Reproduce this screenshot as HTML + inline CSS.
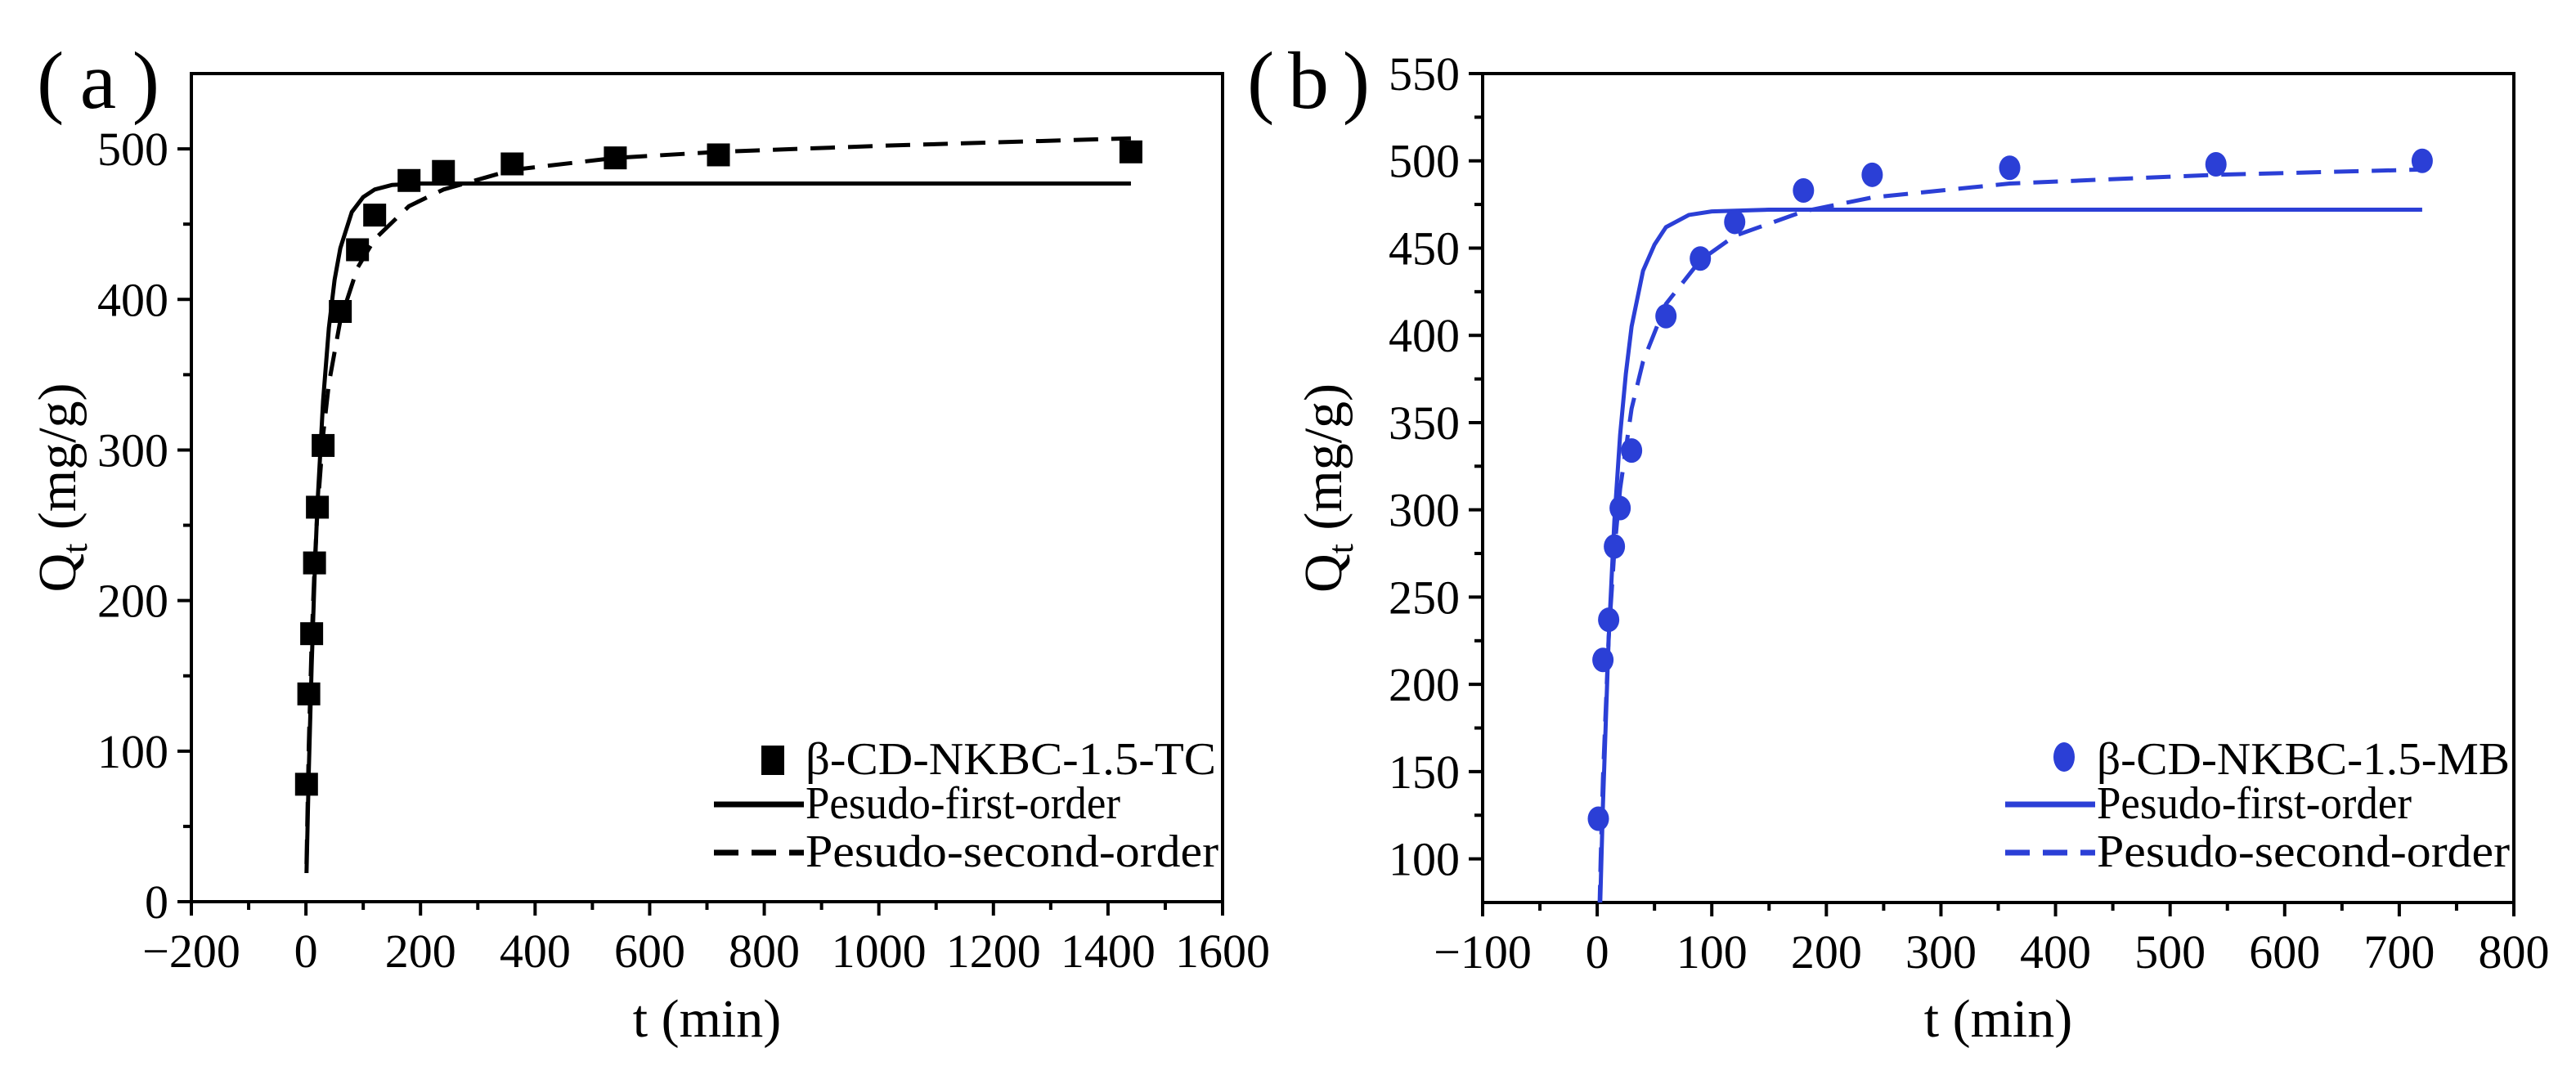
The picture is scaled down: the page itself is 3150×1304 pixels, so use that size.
<!DOCTYPE html>
<html><head><meta charset="utf-8"><style>
html,body{margin:0;padding:0;background:#fff;}
svg{display:block;font-family:"Liberation Serif",serif;}
</style></head><body>
<svg id="fig" width="3150" height="1304" viewBox="0 0 3150 1304" xmlns="http://www.w3.org/2000/svg"></svg>
<script>
// ---- Panel (a) data ----
const aTime = [1,5,10,15,20,30,60,90,120,180,240,360,540,720,1440];
const aQt = [78,138,178,225,262,303,392,433,456,479,485,490,494,496,498];
const aPfoT = [1,5,10,15,20,30,40,50,60,80,100,120,150,200,300,1440];
const aPfoQ = [19,87,157,215,263,333,381,413,434,458,468,473,476,477,477,477];
const aPsoT = [1,5,10,15,20,30,40,60,90,120,180,240,360,540,720,1000,1440];
const aPsoQ = [25,104,173,222,259,310,344,386,421,440,462,473,486,494,498,502,507];
const aXTicks = [-200,0,200,400,600,800,1000,1200,1400,1600];
const aYTicks = [0,100,200,300,400,500];
// ---- Panel (b) data ----
const bTime = [1,5,10,15,20,30,60,90,120,180,240,360,540,720];
const bQt = [123,214,237,279,301,334,411,444,465,483,492,496,498,500];
const bPfoT = [2.6,5,10,15,20,25,30,40,50,60,80,100,150,200,720];
const bPfoQ = [74,131,226,294,343,378,405,437,452,462,469,471,472,472,472];
const bPsoT = [2,3,5,10,15,20,30,40,60,90,120,180,240,360,540,720];
const bPsoQ = [71,99,146,227,277,312,358,385,418,443,457,471,479,487,492,495];
const bXTicks = [-100,0,100,200,300,400,500,600,700,800];
const bYTicks = [100,150,200,250,300,350,400,450,500,550];

const NS='http://www.w3.org/2000/svg';
const svg=document.getElementById('fig');
function mk(tag,attrs,parent){const e=document.createElementNS(NS,tag);for(const k in attrs)e.setAttribute(k,attrs[k]);(parent||svg).appendChild(e);return e;}

function panel(cfg){
  const g=mk('g',{});
  
  
  const X=v=>cfg.x0+(v-cfg.xmin)/(cfg.xmax-cfg.xmin)*(cfg.x1-cfg.x0);
  const Y=v=>cfg.y1-(v-cfg.ymin)/(cfg.ymax-cfg.ymin)*(cfg.y1-cfg.y0);
  const clipId='clip-'+cfg.id;
  const defs=mk('defs',{},g);
  const cp=mk('clipPath',{id:clipId},defs);
  mk('rect',{x:cfg.x0,y:cfg.y0,width:cfg.x1-cfg.x0,height:cfg.y1-cfg.y0},cp);
  const frame=mk('rect',{x:cfg.x0,y:cfg.y0,width:cfg.x1-cfg.x0,height:cfg.y1-cfg.y0,fill:'none',stroke:'#000','stroke-width':4},g);
  
  
  cfg.xTicks.forEach((v,i)=>{
    const x=X(v);
    const t=mk('line',{x1:x,x2:x,y1:cfg.y1,y2:cfg.y1+17,stroke:'#000','stroke-width':4},g);
    
    
    if(i<cfg.xTicks.length-1){
      const xm=X(v+cfg.xMinor);
      const m=mk('line',{x1:xm,x2:xm,y1:cfg.y1,y2:cfg.y1+10,stroke:'#000','stroke-width':4},g);
      
      
    }
    const lb=mk('text',{x:x,y:cfg.y1+80,'text-anchor':'middle','font-size':58},g);
    lb.textContent=(v<0?'\u2212'+(-v):String(v));
    
    
  });
  cfg.yTicks.forEach((v,i)=>{
    const y=Y(v);
    const t=mk('line',{x1:cfg.x0-17,x2:cfg.x0,y1:y,y2:y,stroke:'#000','stroke-width':4},g);
    
    
    const mv=v+cfg.yMinor;
    if(mv<cfg.ymax){
      const ym=Y(mv);
      const m=mk('line',{x1:cfg.x0-10,x2:cfg.x0,y1:ym,y2:ym,stroke:'#000','stroke-width':4},g);
      
      
    }
    if(i===0 && v-cfg.yMinor>cfg.ymin){
      const ym=Y(v-cfg.yMinor);
      const m=mk('line',{x1:cfg.x0-10,x2:cfg.x0,y1:ym,y2:ym,stroke:'#000','stroke-width':4},g);
      
      
    }
    const lb=mk('text',{x:cfg.x0-28,y:y+20,'text-anchor':'end','font-size':58},g);
    lb.textContent=String(v);
    
    
  });
  const xt=mk('text',{x:(cfg.x0+cfg.x1)/2,y:1268,'text-anchor':'middle','font-size':66},g);
  xt.textContent='t (min)';
  
  
  const yx=cfg.yTitleX, yy=(cfg.y0+cfg.y1)/2;
  const yt=mk('text',{x:yx,y:yy,'text-anchor':'middle','font-size':66,transform:`rotate(-90 ${yx} ${yy})`},g);
  
  
  const s1=mk('tspan',{},yt);s1.textContent='Q';
  const s2=mk('tspan',{'font-size':44,dy:14},yt);s2.textContent='t';
  const s3=mk('tspan',{dy:-14},yt);s3.textContent=' (mg/g)';
  const pl=mk('text',{x:cfg.labelX,y:132,'font-size':100,textLength:150,lengthAdjust:'spacing'},g);
  pl.textContent=cfg.label;
  
  
  const cg=mk('g',{'clip-path':`url(#${clipId})`},g);
  const pfo=mk('polyline',{points:cfg.pfoT.map((t,i)=>X(t)+','+Y(cfg.pfoQ[i])).join(' '),fill:'none',stroke:cfg.color,'stroke-width':5,'stroke-linejoin':'round'},cg);
  
  
  const pso=mk('polyline',{points:cfg.psoT.map((t,i)=>X(t)+','+Y(cfg.psoQ[i])).join(' '),fill:'none',stroke:cfg.color,'stroke-width':5,'stroke-dasharray':'30 16','stroke-linejoin':'round'},cg);
  
  
  cfg.time.forEach((t,i)=>{
    const x=X(t), y=Y(cfg.qt[i]);
    let m;
    if(cfg.marker==='square') m=mk('rect',{x:x-14,y:y-14,width:28,height:28,fill:cfg.color},g);
    else m=mk('ellipse',{cx:x,cy:y,rx:13,ry:15,fill:cfg.color},g);
    
    
  });
  const lg=mk('g',{},g);
  
  
  const lx=cfg.x1-550;
  let sym;
  if(cfg.marker==='square') sym=mk('rect',{x:lx-14,y:930-18,width:28,height:36,fill:cfg.color},lg);
  else sym=mk('ellipse',{cx:lx,cy:926,rx:13,ry:18,fill:cfg.color},lg);
  
  
  const names=[cfg.series,'Pesudo-first-order','Pesudo-second-order'];
  const ys=[930,984,1043];
  names.forEach((n,i)=>{
    const t=mk('text',{x:lx+40,y:ys[i]+17,'font-size':56,textLength:i===0?cfg.sLen:(i===1?385:505),lengthAdjust:'spacingAndGlyphs'},lg);
    t.textContent=n;
    
    
  });
  const l1=mk('line',{x1:lx-72,x2:lx+38,y1:ys[1],y2:ys[1],stroke:cfg.color,'stroke-width':7},lg);
  
  
  const l2=mk('line',{x1:lx-72,x2:lx+38,y1:ys[2],y2:ys[2],stroke:cfg.color,'stroke-width':7,'stroke-dasharray':'30 16'},lg);
  
  
}

panel({id:'a',x0:234,x1:1495,y0:90,y1:1103,xmin:-200,xmax:1600,ymin:0,ymax:550,
  xTicks:aXTicks,yTicks:aYTicks,xMinor:100,yMinor:50,color:'#000',marker:'square',
  time:aTime,qt:aQt,pfoT:aPfoT,pfoQ:aPfoQ,psoT:aPsoT,psoQ:aPsoQ,
  series:'\u03b2-CD-NKBC-1.5-TC',sLen:502,label:'(a)',labelX:45,yTitleX:92});
panel({id:'b',x0:1813,x1:3074,y0:90,y1:1104,xmin:-100,xmax:800,ymin:75,ymax:550,
  xTicks:bXTicks,yTicks:bYTicks,xMinor:50,yMinor:25,color:'#2b3fd6',marker:'circle',
  time:bTime,qt:bQt,pfoT:bPfoT,pfoQ:bPfoQ,psoT:bPsoT,psoQ:bPsoQ,
  series:'\u03b2-CD-NKBC-1.5-MB',sLen:505,label:'(b)',labelX:1525,yTitleX:1640});
</script>
</body></html>
